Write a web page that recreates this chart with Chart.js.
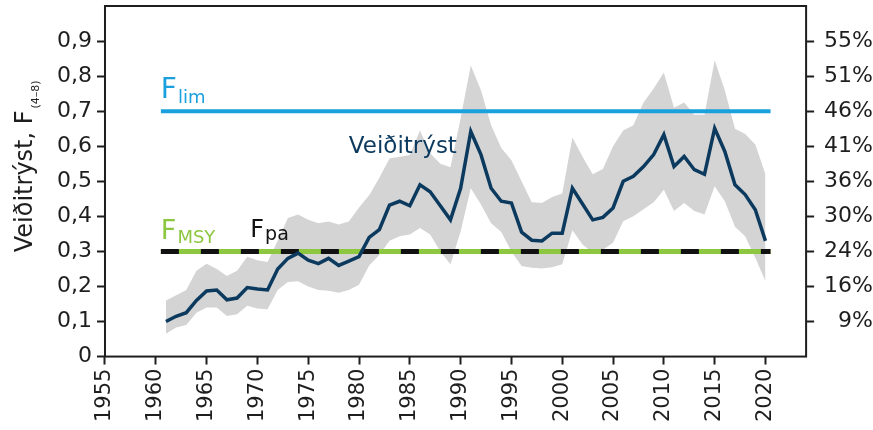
<!DOCTYPE html>
<html>
<head>
<meta charset="utf-8">
<title>Veiðitrýst</title>
<script src="https://cdn.jsdelivr.net/npm/chart.js@4.4.0/dist/chart.umd.min.js"></script>
<style>
  body { margin: 0; background: #fff; }
</style>
</head>
<body>
<canvas id="chart" width="873" height="430"></canvas>
<script>
// ár
const years = [
  1961, 1962, 1963, 1964, 1965, 1966, 1967, 1968, 1969, 1970,
  1971, 1972, 1973, 1974, 1975, 1976, 1977, 1978, 1979, 1980,
  1981, 1982, 1983, 1984, 1985, 1986, 1987, 1988, 1989, 1990,
  1991, 1992, 1993, 1994, 1995, 1996, 1997, 1998, 1999, 2000,
  2001, 2002, 2003, 2004, 2005, 2006, 2007, 2008, 2009, 2010,
  2011, 2012, 2013, 2014, 2015, 2016, 2017, 2018, 2019, 2020
];

// veiðitrýst F(4-8)
const fMain = [
  0.100, 0.115, 0.125, 0.160, 0.187, 0.190, 0.162, 0.167, 0.197, 0.193,
  0.190, 0.250, 0.280, 0.295, 0.275, 0.265, 0.280, 0.260, 0.272, 0.285,
  0.340, 0.362, 0.432, 0.443, 0.430, 0.490, 0.470, 0.430, 0.390, 0.480,
  0.642, 0.576, 0.480, 0.443, 0.438, 0.355, 0.332, 0.330, 0.352, 0.352,
  0.480, 0.435, 0.390, 0.397, 0.424, 0.500, 0.514, 0.542, 0.576, 0.633,
  0.542, 0.571, 0.533, 0.520, 0.651, 0.585, 0.490, 0.462, 0.419, 0.330
];

// óvissubil, efri mörk
const fHigh = [
  0.160, 0.175, 0.190, 0.245, 0.265, 0.250, 0.230, 0.245, 0.285, 0.275,
  0.270, 0.330, 0.395, 0.405, 0.390, 0.380, 0.385, 0.377, 0.385, 0.425,
  0.460, 0.510, 0.565, 0.570, 0.575, 0.645, 0.580, 0.550, 0.540, 0.680,
  0.830, 0.760, 0.660, 0.595, 0.560, 0.500, 0.440, 0.438, 0.455, 0.465,
  0.625, 0.570, 0.520, 0.535, 0.600, 0.645, 0.660, 0.725, 0.765, 0.810,
  0.710, 0.725, 0.690, 0.690, 0.845, 0.760, 0.650, 0.635, 0.605, 0.520
];

// óvissubil, neðri mörk
const fLow = [
  0.065, 0.083, 0.090, 0.125, 0.140, 0.140, 0.116, 0.121, 0.145, 0.137,
  0.135, 0.190, 0.213, 0.215, 0.200, 0.190, 0.188, 0.182, 0.190, 0.205,
  0.260, 0.290, 0.330, 0.343, 0.348, 0.367, 0.348, 0.300, 0.263, 0.357,
  0.480, 0.434, 0.380, 0.355, 0.300, 0.258, 0.253, 0.251, 0.255, 0.263,
  0.360, 0.320, 0.296, 0.305, 0.325, 0.386, 0.400, 0.420, 0.440, 0.476,
  0.415, 0.438, 0.415, 0.405, 0.486, 0.443, 0.370, 0.343, 0.282, 0.215
];

// viðmiðunarmörk
const refYears = [1960.5, 2020.5];
const fLim = 0.7;
const fMsy = 0.3;
const fPa = 0.3;

// ásar
const xTicks = [1955, 1960, 1965, 1970, 1975, 1980, 1985, 1990, 1995, 2000, 2005, 2010, 2015, 2020];
const leftTicks = [0, 0.1, 0.2, 0.3, 0.4, 0.5, 0.6, 0.7, 0.8, 0.9];
const rightTicks = [0.1, 0.2, 0.3, 0.4, 0.5, 0.6, 0.7, 0.8, 0.9];
const rightLabels = ['9%', '16%', '24%', '30%', '36%', '41%', '46%', '51%', '55%'];

const FONT = '"DejaVu Sans", sans-serif';
const INK = '#1e1e1e';

function pts(vals) {
  return years.map((yr, i) => ({ x: yr, y: vals[i] }));
}
function flat(v) {
  return refYears.map(yr => ({ x: yr, y: v }));
}

// texti með lágletri (F_lim o.s.frv.)
function subText(ctx, px, py, main, sub, color, big, small, drop) {
  ctx.fillStyle = color;
  ctx.textAlign = 'left';
  ctx.textBaseline = 'alphabetic';
  ctx.font = big + 'px ' + FONT;
  ctx.fillText(main, px, py);
  const w = ctx.measureText(main).width;
  ctx.font = small + 'px ' + FONT;
  ctx.fillText(sub, px + w + 1, py + drop);
}

const decor = {
  id: 'decor',
  afterDatasetsDraw(chart) {
    const { ctx, chartArea: a, scales } = chart;
    const x = scales.x, y = scales.y;
    ctx.save();
    ctx.strokeStyle = INK;
    ctx.lineWidth = 2;
    ctx.strokeRect(a.left, a.top, a.right - a.left, a.bottom - a.top);

    subText(ctx, x.getPixelForValue(refYears[0]), y.getPixelForValue(fLim) - 13, 'F', 'lim', '#1aa0dc', 28, 18, 5);
    subText(ctx, x.getPixelForValue(refYears[0]), y.getPixelForValue(fMsy) - 12, 'F', 'MSY', '#8dc63f', 27, 18, 4);
    subText(ctx, x.getPixelForValue(1969.3), y.getPixelForValue(fPa) - 14, 'F', 'pa', '#111', 24, 19, 3);

    ctx.fillStyle = '#0c3a5e';
    ctx.font = '23px ' + FONT;
    ctx.textAlign = 'left';
    ctx.fillText('Veiðitrýst', x.getPixelForValue(1979), y.getPixelForValue(0.58));
    ctx.restore();
  },
  afterDraw(chart) {
    const { ctx, chartArea: a } = chart;
    const main = 'Veiðitrýst, F';
    const sub = '(4–8)';
    ctx.save();
    ctx.translate(32, (a.top + a.bottom) / 2 - 14);
    ctx.rotate(-Math.PI / 2);
    ctx.fillStyle = INK;
    ctx.textBaseline = 'alphabetic';
    ctx.font = '24px ' + FONT;
    const w1 = ctx.measureText(main).width;
    ctx.font = '11px ' + FONT;
    const w2 = ctx.measureText(sub).width;
    const start = -(w1 + w2) / 2;
    ctx.font = '24px ' + FONT;
    ctx.fillText(main, start, 0);
    ctx.font = '11px ' + FONT;
    ctx.fillText(sub, start + w1 + 2, 7);
    ctx.restore();
  }
};

const tickGrid = { drawOnChartArea: false, drawTicks: true, tickLength: 8, tickWidth: 2, tickColor: INK };
// efsti merkimiðinn (0,9) er langt frá toppnum, svo ekkert aukabil þar
const noTopPad = s => { s.paddingTop = 0; };

new Chart(document.getElementById('chart'), {
  type: 'line',
  data: {
    datasets: [
      { data: pts(fHigh), fill: '+1', backgroundColor: '#d4d4d4', borderColor: 'rgba(0,0,0,0)', borderWidth: 0, pointRadius: 0, order: 5 },
      { data: pts(fLow), fill: false, borderColor: 'rgba(0,0,0,0)', borderWidth: 0, pointRadius: 0, order: 6 },
      { data: flat(fLim), borderColor: '#1aa0dc', borderWidth: 4, pointRadius: 0, order: 3 },
      { data: flat(fMsy), borderColor: '#8dc63f', borderWidth: 5, pointRadius: 0, order: 2 },
      { data: flat(fPa), borderColor: '#111', borderWidth: 5, borderDash: [18, 22], pointRadius: 0, order: 1 },
      { data: pts(fMain), borderColor: '#0c3a5e', borderWidth: 3.5, pointRadius: 0, order: 0 }
    ]
  },
  options: {
    responsive: false,
    animation: false,
    layout: { padding: { left: 52, right: 0, top: 6, bottom: 4 } },
    plugins: { legend: { display: false }, tooltip: { enabled: false } },
    scales: {
      x: {
        type: 'linear', min: 1955, max: 2024,
        afterBuildTicks: s => { s.ticks = xTicks.map(v => ({ value: v })); },
        ticks: { callback: v => String(v), minRotation: 90, maxRotation: 90, padding: 4, color: INK, font: { family: FONT, size: 21 } },
        grid: tickGrid,
        border: { display: false }
      },
      y: {
        min: 0, max: 1,
        afterBuildTicks: s => { s.ticks = leftTicks.map(v => ({ value: v })); },
        afterFit: noTopPad,
        ticks: { callback: v => v === 0 ? '0' : v.toFixed(1).replace('.', ','), padding: 5, color: INK, font: { family: FONT, size: 22 } },
        grid: tickGrid,
        border: { display: false }
      },
      y2: {
        position: 'right', min: 0, max: 1,
        afterBuildTicks: s => { s.ticks = rightTicks.map(v => ({ value: v })); },
        afterFit: noTopPad,
        ticks: { callback: (v, i) => rightLabels[i], crossAlign: 'far', padding: 5, color: INK, font: { family: FONT, size: 22 } },
        grid: tickGrid,
        border: { display: false }
      }
    }
  },
  plugins: [decor]
});
</script>
</body>
</html>
